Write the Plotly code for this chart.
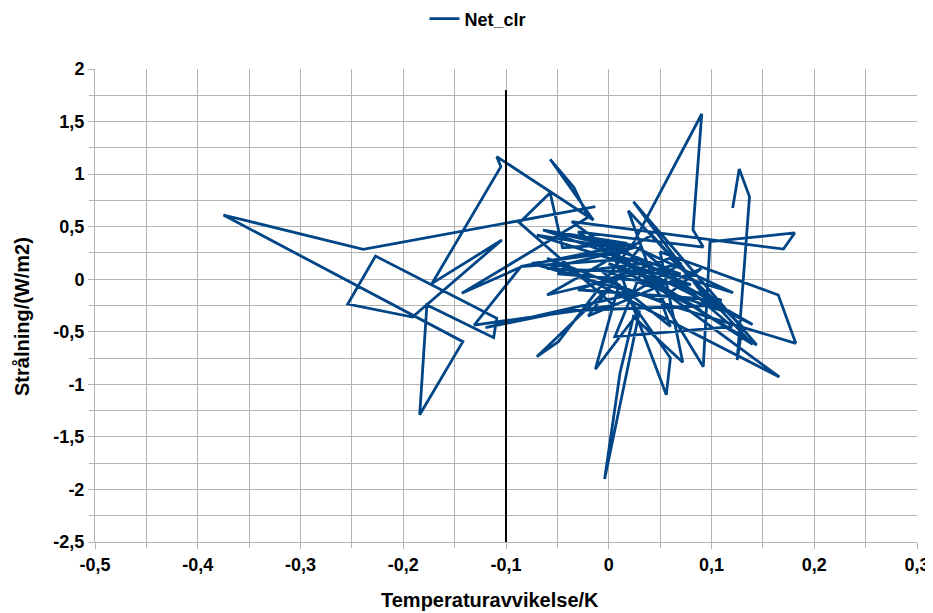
import plotly.graph_objects as go

# Temperature anomaly (K) and radiation (W/m2) in path order
temp_anomaly = [
    -0.013, -0.239, -0.375, -0.142, -0.184, -0.177, -0.112, -0.109, -0.227, -0.254,
    -0.191, -0.104, -0.172, -0.105, -0.109, -0.015, -0.057, -0.034, -0.020, -0.143,
    -0.086, -0.131, 0.005, -0.087, -0.057, -0.045, 0.018, -0.064, 0.045, 0.121,
    0.020, -0.086, 0.030, -0.070, -0.049, 0.024, 0.0905, 0.082, 0.092, -0.030,
    0.040, 0.092, 0.0985, 0.147, 0.181, 0.170, -0.036, 0.020, 0.140, 0.000,
    0.056, 0.060, 0.010, -0.013, 0.030, -0.004, 0.011, 0.024, 0.072, 0.050,
    0.165, 0.182, 0.060, -0.060, 0.166, 0.030, 0.144, 0.024, 0.100, -0.040,
    -0.120, 0.020, 0.071, -0.060, 0.042, 0.110, -0.010, 0.060, 0.019, 0.140,
    0.000, -0.075, 0.050, 0.090, -0.020, 0.030, 0.120, 0.006, 0.035, -0.050,
    0.080, -0.070, 0.020, -0.055, 0.025, -0.060, 0.070, -0.020, 0.090, 0.000,
    0.110, -0.030, 0.060, 0.130, 0.125, 0.137, 0.127, 0.1206,
]
net_clr = [
    0.69, 0.284, 0.611, -0.594, -1.29, -0.245, -0.556, -0.372, 0.221, -0.236,
    -0.36, 0.373, -0.04, 1.07, 1.166, 0.563, 1.141, 0.875, 0.59, -0.134,
    0.113, -0.436, -0.25, 0.538, 0.823, 0.30, 0.34, 0.468, 0.10, -0.128,
    0.33, 0.119, 0.20, -0.737, -0.594, 0.344, 1.572, 0.468, 0.306, 0.45,
    0.00, -0.833, 0.357, 0.41, 0.44, 0.287, 0.547, 0.15, -0.43, 0.35,
    -1.10, -0.75, -0.05, -0.855, -0.30, -1.90, -0.89, -0.357, -0.79, 0.26,
    -0.15, -0.61, -0.25, 0.20, -0.93, 0.05, -0.626, 0.737, -0.25, -0.30,
    -0.46, -0.15, 0.151, -0.15, 0.42, -0.30, 0.10, -0.45, 0.652, -0.62,
    0.25, 0.15, -0.2, 0.10, -0.35, 0.30, -0.45, -0.547, 0.15, 0.05,
    -0.05, 0.42, 0.28, 0.45, 0.30, 0.10, 0.05, 0.38, -0.30, 0.15,
    -0.20, -0.10, 0.20, -0.45, -0.77, 0.785, 1.049, 0.677,
]

# Vertical reference line
ref_x = [-0.1, -0.1]
ref_y = [1.8, -2.5]

x_ticks = [-0.5, -0.4, -0.3, -0.2, -0.1, 0, 0.1, 0.2, 0.3]
x_tick_text = ["-0,5", "-0,4", "-0,3", "-0,2", "-0,1", "0", "0,1", "0,2", "0,3"]
y_ticks = [2, 1.5, 1, 0.5, 0, -0.5, -1, -1.5, -2, -2.5]
y_tick_text = ["2", "1,5", "1", "0,5", "0", "-0,5", "-1", "-1,5", "-2", "-2,5"]

FONT = "Liberation Sans"
grid = "#b3b3b3"

# The page body has an 8px margin, so the figure is drawn 8px in from top-left.
OFF = 8
W, H = 933 - OFF, 613 - OFF
PL, PT, PR, PB = 95, 69, 917, 542  # plot area in screenshot pixels
pw, ph = PR - PL, PB - PT

fig = go.Figure()
fig.add_trace(go.Scatter(
    x=temp_anomaly, y=net_clr, mode="lines", name="<b>Net_clr</b>",
    line=dict(color="#004586", width=2.8),
))
fig.add_trace(go.Scatter(
    x=ref_x, y=ref_y, mode="lines", showlegend=False,
    line=dict(color="#000000", width=2),
))

fig.update_layout(
    width=W, height=H,
    margin=dict(l=PL - OFF, r=933 - PR, t=PT - OFF, b=613 - PB, autoexpand=False),
    paper_bgcolor="white", plot_bgcolor="white",
    font=dict(family=FONT, color="#000000"),
    showlegend=True,
    legend=dict(orientation="h", x=(478 - OFF) / W, xanchor="center", xref="container",
                y=1 - (19 - OFF) / H, yanchor="middle", yref="container",
                font=dict(family=FONT, size=18, color="#000"),
                itemwidth=30),
    xaxis=dict(
        range=[-0.5, 0.3], tickvals=x_ticks,
        ticktext=[f"<b>{t}</b>" for t in x_tick_text],
        showgrid=True, gridcolor=grid, gridwidth=1,
        minor=dict(dtick=0.05, showgrid=True, gridcolor=grid, gridwidth=1,
                   ticks="outside", ticklen=5, tickcolor=grid),
        ticks="outside", ticklen=6, tickcolor=grid,
        showline=True, linecolor=grid, linewidth=1, zeroline=False,
        automargin=False,
        tickfont=dict(family=FONT, size=18, color="#000"),
    ),
    yaxis=dict(
        range=[-2.5, 2], tickvals=y_ticks,
        ticktext=[f"<b>{t}</b>" for t in y_tick_text],
        showgrid=True, gridcolor=grid, gridwidth=1,
        minor=dict(dtick=0.25, showgrid=True, gridcolor=grid, gridwidth=1,
                   ticks="outside", ticklen=5, tickcolor=grid),
        ticks="outside", ticklen=6, tickcolor=grid,
        showline=True, linecolor=grid, linewidth=1, zeroline=False,
        automargin=False,
        tickfont=dict(family=FONT, size=18, color="#000"),
    ),
    annotations=[
        dict(text="<b>Temperaturavvikelse/K</b>", xref="paper", yref="paper",
             x=(490 - PL) / pw, y=-(600 - PB) / ph, xanchor="center", yanchor="middle",
             showarrow=False, font=dict(family=FONT, size=20, color="#000")),
        dict(text="<b>Strålning/(W/m2)</b>", xref="paper", yref="paper",
             x=-(PL - 22) / pw, y=(PB - 317) / ph, xanchor="center", yanchor="middle",
             textangle=-90, showarrow=False, font=dict(family=FONT, size=20, color="#000")),
    ],
)

fig.write_html("out.html")
